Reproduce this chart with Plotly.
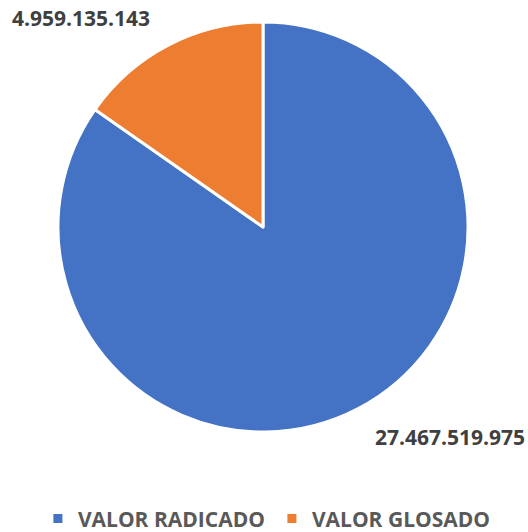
import plotly.graph_objects as go

labels = ["VALOR RADICADO", "VALOR GLOSADO"]
values = [27467519975, 4959135143]
colors = ["#4472C4", "#ED7D31"]

def fmt(v):
    return f"{v:,}".replace(",", ".")

fig = go.Figure(go.Pie(
    labels=labels, values=values, sort=False, direction="clockwise", rotation=0,
    marker=dict(colors=colors, line=dict(color="white", width=3)),
    textinfo="none", hoverinfo="label+value",
))

fig.update_layout(
    width=528, height=532,
    margin=dict(l=58, r=60, t=22, b=100, autoexpand=False),
    paper_bgcolor="white", plot_bgcolor="white",
    font=dict(family="Open Sans", color="#595959"),
    legend=dict(orientation="h", x=-0.049, xanchor="left", y=-0.212, yanchor="middle",
                font=dict(size=21, color="#595959", family="Open Sans", weight="bold"),
                itemwidth=30, tracegroupgap=0, entrywidth=189),
    annotations=[
        dict(text=f"<b>{fmt(values[1])}</b>", x=0.056, y=1.01, xref="paper", yref="paper",
             xanchor="center", yanchor="middle", showarrow=False,
             font=dict(size=21, color="#404040", family="Open Sans")),
        dict(text=f"<b>{fmt(values[0])}</b>", x=0.956, y=-0.012, xref="paper", yref="paper",
             xanchor="center", yanchor="middle", showarrow=False,
             font=dict(size=21, color="#404040", family="Open Sans")),
    ],
)
fig.write_html("out.html", config={"displayModeBar": False},
               post_script="document.body.style.margin='0';document.body.style.overflow='hidden';")
